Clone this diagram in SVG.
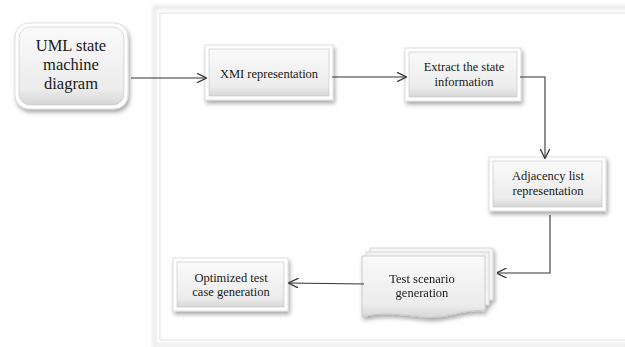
<svg xmlns="http://www.w3.org/2000/svg" width="625" height="347" viewBox="0 0 625 347">
<defs>
<filter id="sh" x="-20%" y="-20%" width="140%" height="150%">
<feDropShadow dx="1.5" dy="3" stdDeviation="2" flood-color="#000" flood-opacity="0.35"/>
</filter>
<filter id="fs" x="-5%" y="-5%" width="110%" height="110%">
<feGaussianBlur stdDeviation="1.5"/>
</filter>
<linearGradient id="g" x1="0" y1="0" x2="0" y2="1">
<stop offset="0" stop-color="#fafafa"/>
<stop offset="0.8" stop-color="#ececec"/>
<stop offset="1" stop-color="#d6d6d6"/>
</linearGradient>
<marker id="ah" viewBox="0 0 10 10" refX="9.5" refY="5" markerWidth="10" markerHeight="10" markerUnits="userSpaceOnUse" orient="auto">
<path d="M0,0 L10,5 L0,10" fill="none" stroke="#333" stroke-width="1.3"/>
</marker>
<style>
.t{font-family:"Liberation Serif","Times New Roman",serif;fill:#1a1a1a;text-anchor:middle}
.s{font-size:12.5px}
.b{font-size:16.5px}
.o{fill:#fff;stroke:#d4d4d4;stroke-width:0.8}
.i{fill:url(#g);stroke:#c4c4c4;stroke-width:0.6}
.c{fill:none;stroke:#333;stroke-width:1.1}
</style>
</defs>
<rect width="625" height="347" fill="#fff"/>
<g id="frame">
<rect x="154.5" y="7.5" width="475" height="338" fill="none" stroke="#eeeeee" stroke-width="5" filter="url(#fs)"/>
<rect x="160" y="13" width="470" height="327" fill="#fff" stroke="#e0e0e0" stroke-width="1"/>
</g>
<g id="uml">
<rect x="15" y="23" width="113" height="86" rx="14" class="o" filter="url(#sh)"/>
<rect x="19" y="27" width="105" height="78" rx="11" class="i"/>
<text class="t b" x="71" y="51">UML state</text>
<text class="t b" x="71" y="70">machine</text>
<text class="t b" x="71" y="89">diagram</text>
</g>
<g id="xmi">
<rect x="205" y="45" width="128" height="55" class="o" filter="url(#sh)"/>
<rect x="209" y="49" width="120" height="47" class="i"/>
<text class="t s" x="269" y="78">XMI representation</text>
</g>
<g id="extract">
<rect x="405" y="48" width="116" height="53" class="o" filter="url(#sh)"/>
<rect x="409" y="52" width="108" height="45" class="i"/>
<text class="t s" x="464" y="71">Extract the state</text>
<text class="t s" x="464" y="86">information</text>
</g>
<g id="adjacency">
<rect x="489" y="157" width="117" height="54" class="o" filter="url(#sh)"/>
<rect x="493" y="161" width="109" height="46" class="i"/>
<text class="t s" x="548" y="180">Adjacency list</text>
<text class="t s" x="548" y="195">representation</text>
</g>
<g id="testscenario" filter="url(#sh)">
<path d="M370,248 H493 V300 C472,297 457,307 432,304 C407,301 390,299 370,304 Z" fill="#f6f6f6" stroke="#cfcfcf" stroke-width="0.8"/>
<path d="M366,252 H489 V305 C468,302 453,312 428,309 C403,306 386,304 366,309 Z" fill="#f3f3f3" stroke="#cfcfcf" stroke-width="0.8"/>
<path d="M362,256 H485 V311 C463,308 448,320 422,317 C397,314 380,312 362,317 Z" fill="url(#g)" stroke="#c4c4c4" stroke-width="0.8"/>
<text class="t s" x="422" y="283">Test scenario</text>
<text class="t s" x="422" y="297">generation</text>
</g>
<g id="optimized">
<rect x="173" y="258" width="115" height="53" class="o" filter="url(#sh)"/>
<rect x="177" y="262" width="107" height="45" class="i"/>
<text class="t s" x="231" y="282">Optimized test</text>
<text class="t s" x="231" y="296">case generation</text>
</g>
<g id="connectors">
<path class="c" d="M131,78 H206" marker-end="url(#ah)"/>
<path class="c" d="M332,77 H406" marker-end="url(#ah)"/>
<path class="c" d="M520,77 H545 V158" marker-end="url(#ah)"/>
<path class="c" d="M550,215 V273 H497" marker-end="url(#ah)"/>
<path class="c" d="M364,284 L289,283" marker-end="url(#ah)"/>
</g>
</svg>
